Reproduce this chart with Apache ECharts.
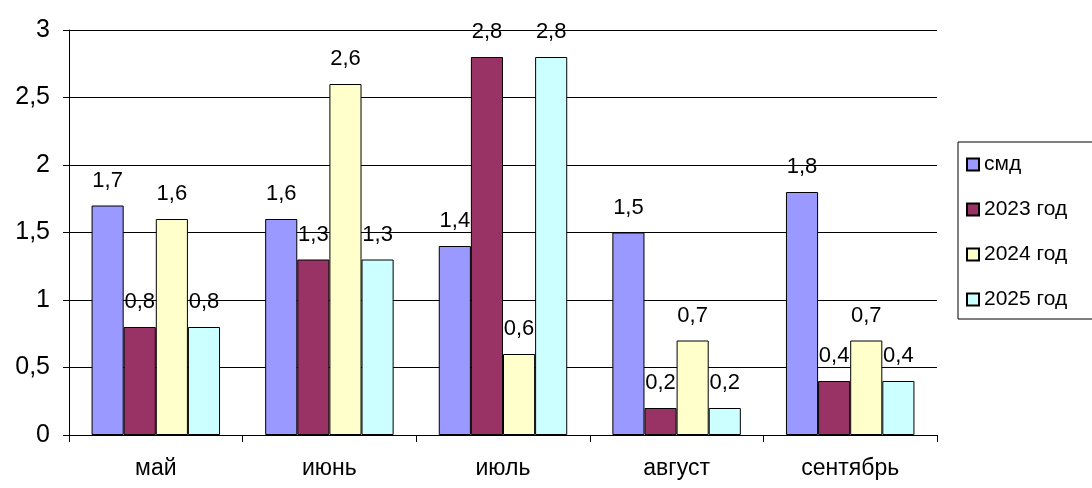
<!DOCTYPE html>
<html><head><meta charset="utf-8">
<script src="https://cdn.jsdelivr.net/npm/echarts@6/dist/echarts.min.js"></script>
<style>html,body{margin:0;padding:0;background:#fff}#c{width:1092px;height:488px}</style>
</head><body><div id="c"></div>
<script>
const categories = ['май', 'июнь', 'июль', 'август', 'сентябрь'];
const seriesNames = ['смд', '2023 год', '2024 год', '2025 год'];
const smd = [1.7, 1.6, 1.4, 1.5, 1.8];
const y2023 = [0.8, 1.3, 2.8, 0.2, 0.4];
const y2024 = [1.6, 2.6, 0.6, 0.7, 0.7];
const y2025 = [0.8, 1.3, 2.8, 0.2, 0.4];
const colors = ['#9999FF', '#993366', '#FFFFCC', '#CCFFFF'];
const values = [smd, y2023, y2024, y2025];
const FONT = '"Liberation Sans", Arial, sans-serif';
const comma = v => String(v).replace('.', ',');

const chart = echarts.init(document.getElementById('c'));
chart.setOption({
  animation: false,
  textStyle: { fontFamily: FONT },
  grid: { left: 69, right: 155, top: 30, bottom: 53, containLabel: false },
  legend: {
    orient: 'vertical', left: 958, top: 142,
    itemWidth: 12, itemHeight: 12, itemGap: 24,
    borderColor: '#000', borderWidth: 1,
    padding: [12, 40, 9, 8],
    textStyle: { fontSize: 21, color: '#000', fontFamily: FONT },
    icon: 'rect',
    data: seriesNames
  },
  xAxis: {
    type: 'category', data: categories,
    axisLine: { lineStyle: { color: '#000', width: 1 } },
    axisTick: { show: true, length: 7, lineStyle: { color: '#000' } },
    axisLabel: { fontSize: 23, color: '#000', margin: 22 }
  },
  yAxis: {
    type: 'value', min: 0, max: 3, interval: 0.5,
    axisLine: { show: true, lineStyle: { color: '#000', width: 1 } },
    axisTick: { show: true, length: 6, lineStyle: { color: '#000' } },
    splitLine: { lineStyle: { color: '#000', width: 1 } },
    axisLabel: { fontSize: 25, color: '#000', margin: 19, formatter: comma }
  },
  series: values.map((arr, i) => ({
    name: seriesNames[i], type: 'bar', data: arr,
    barGap: '0%', barCategoryGap: '26%',
    itemStyle: { color: colors[i], borderColor: '#000', borderWidth: 1 },
    label: { show: true, position: 'top', distance: 14, fontSize: 22, color: '#000',
      formatter: p => comma(p.value) }
  }))
});
</script></body></html>
